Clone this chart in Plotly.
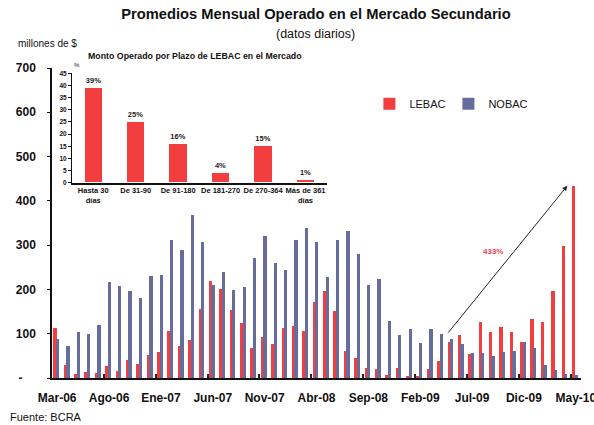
import plotly.graph_objects as go

months = ["Mar-06","Abr-06","May-06","Jun-06","Jul-06","Ago-06","Sep-06","Oct-06","Nov-06","Dic-06",
          "Ene-07","Feb-07","Mar-07","Abr-07","May-07","Jun-07","Jul-07","Ago-07","Sep-07","Oct-07",
          "Nov-07","Dic-07","Ene-08","Feb-08","Mar-08","Abr-08","May-08","Jun-08","Jul-08","Ago-08",
          "Sep-08","Oct-08","Nov-08","Dic-08","Ene-09","Feb-09","Mar-09","Abr-09","May-09","Jun-09",
          "Jul-09","Ago-09","Sep-09","Oct-09","Nov-09","Dic-09","Ene-10","Feb-10","Mar-10","Abr-10","May-10"]

lebac = [113, 30, 10, 14, 11, 28, 16, 41, 32, 52,
         59, 106, 73, 86, 155, 218, 200, 153, 124, 68,
         92, 77, 113, 117, 106, 171, 196, 151, 61, 45,
         22, 20, 7, 22, 5, 5, 20, 38, 81, 97,
         54, 126, 104, 115, 104, 81, 133, 126, 196, 297, 434]

nobac = [88, 73, 104, 99, 119, 216, 207, 196, 180, 230,
         232, 311, 290, 369, 308, 209, 239, 198, 205, 270,
         320, 259, 245, 311, 338, 308, 227, 311, 331, 279,
         209, 223, 128, 97, 110, 79, 110, 99, 88, 77,
         56, 56, 50, 59, 61, 81, 68, 29, 18, 9, 7]

x_tick_labels = ["Mar-06","Ago-06","Ene-07","Jun-07","Nov-07","Abr-08","Sep-08","Feb-09","Jul-09","Dic-09","May-10"]
y_ticks = [0, 100, 200, 300, 400, 500, 600, 700]
y_tick_text = ["-\u2007\u2007", "100", "200", "300", "400", "500", "600", "700"]

plazos = ["Hasta 30<br>días", "De 31-90", "De 91-180", "De 181-270", "De 270-364", "Más de 361<br>días"]
plazo_pct = [39, 25, 16, 4, 15, 1]
inset_ticks = [0, 5, 10, 15, 20, 25, 30, 35, 40, 45]

RED = "#F23E3E"
BLUE = "#666C9C"
FONT = "Liberation Sans"

fig = go.Figure()
fig.add_trace(go.Bar(x=months, y=lebac, name="LEBAC", marker_color=RED,
                     width=0.33, offset=-0.37, marker_line_width=0))
fig.add_trace(go.Bar(x=months, y=nobac, name="NOBAC", marker_color=BLUE,
                     width=0.32, offset=-0.13, marker_line_width=0))

fig.add_trace(go.Bar(x=plazos, y=plazo_pct, xaxis="x2", yaxis="y2", showlegend=False,
                     marker_color=RED, width=0.41, marker_line_width=0,
                     text=[f"{v}%" for v in plazo_pct], textposition="outside",
                     textfont=dict(size=7.5, color="#222", family=FONT, weight="bold"),
                     cliponaxis=False))

fig.update_layout(
    width=594, height=425,
    margin=dict(l=52, r=13, t=68, b=47),
    plot_bgcolor="white", paper_bgcolor="white",
    barmode="overlay",
    font=dict(family=FONT, color="#111"),
    title=dict(text="Promedios Mensual Operado en el Mercado Secundario",
               x=316/594, xanchor="center", xref="container",
               y=1-14/425, yanchor="middle",
               font=dict(size=14.7, family=FONT, weight="bold", color="#111")),
    xaxis=dict(type="category", tickvals=x_tick_labels, ticktext=x_tick_labels,
               tickson="boundaries", ticks="inside", ticklen=4, tickcolor="#222", tickwidth=1.5,
               showline=True, linecolor="#111", linewidth=2, showgrid=False,
               tickangle=0, automargin=False, ticklabelstandoff=8,
               tickfont=dict(size=12, family=FONT, weight="bold", color="#111"),
               range=[-0.5, 50.5]),
    yaxis=dict(range=[0, 700], tickvals=y_ticks, ticktext=y_tick_text,
               showline=True, linecolor="#111", linewidth=1.5, showgrid=False,
               ticks="outside", ticklen=3, tickcolor="#111", automargin=False,
               ticklabelstandoff=9,
               tickfont=dict(size=12, family=FONT, weight="bold", color="#111"),
               zeroline=False),
    xaxis2=dict(domain=[0.0378, 0.5194], anchor="y2", type="category",
                showline=True, linecolor="#111", linewidth=1.5, ticks="",
                tickangle=0, automargin=False,
                tickfont=dict(size=7.5, family=FONT, weight="bold", color="#111"),
                showgrid=False),
    yaxis2=dict(domain=[0.630, 0.983], anchor="x2", range=[0, 45], tickvals=inset_ticks,
                showline=True, linecolor="#111", linewidth=1, showgrid=False,
                ticks="outside", ticklen=3, tickcolor="#111", zeroline=False, automargin=False,
                tickfont=dict(size=6.5, family=FONT, weight="bold", color="#111")),
    legend=dict(orientation="h", x=0.60, xanchor="left", y=0.885, yanchor="middle",
                font=dict(size=11, family=FONT, color="#111"),
                entrywidth=34, entrywidthmode="pixels", bgcolor="rgba(0,0,0,0)"),
    bargap=0,
)

fig.add_annotation(text="(datos diarios)", xref="paper", yref="paper",
                   x=(316-52)/529.4, y=(378-34)/310, xanchor="center", yanchor="middle",
                   showarrow=False, font=dict(size=12.5, family=FONT, color="#111"))
fig.add_annotation(text="millones de $", xref="paper", yref="paper",
                   x=(16-52)/529.4, y=(378-43)/310, xanchor="left", yanchor="middle",
                   showarrow=False, font=dict(size=10, family=FONT, color="#111"))
fig.add_annotation(text="Monto Operado por Plazo de LEBAC en el Mercado", xref="paper", yref="paper",
                   x=(195-52)/529.4, y=(378-56)/310, xanchor="center", yanchor="middle",
                   showarrow=False, font=dict(size=8.8, family=FONT, weight="bold", color="#111"))
fig.add_annotation(text="%", xref="paper", yref="paper",
                   x=(77-52)/529.4, y=(378-65)/310, xanchor="center", yanchor="middle",
                   showarrow=False, font=dict(size=6, family=FONT, color="#111"))
fig.add_annotation(text="Fuente: BCRA", xref="paper", yref="paper",
                   x=(8-52)/529.4, y=(378-417)/310, xanchor="left", yanchor="middle",
                   showarrow=False, font=dict(size=11, family=FONT, color="#111"))

# growth arrow and label
fig.add_annotation(x=49.18, y=434, ax=37.58, ay=99, xref="x", yref="y", axref="x", ayref="y",
                   text="", showarrow=True, arrowhead=2, arrowsize=1, arrowwidth=1, arrowcolor="#222")
fig.add_annotation(x=42.03, y=286, xref="x", yref="y", text="433%", showarrow=False,
                   font=dict(size=8, family=FONT, weight="bold", color="#F0405A"))

fig.write_html("out.html", config={"displayModeBar": False},
               post_script="document.body.style.margin='0px';")
